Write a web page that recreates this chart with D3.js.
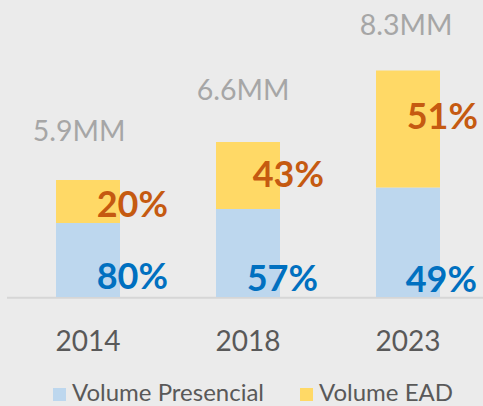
<!DOCTYPE html>
<html>
<head>
<meta charset="utf-8">
<script src="https://cdn.jsdelivr.net/npm/d3@7"></script>
<style>
  html, body { margin: 0; padding: 0; background: #ebebeb; }
  svg { display: block; font-family: Lato, "Open Sans", sans-serif; }
</style>
</head>
<body>
<script>
// ---- data (bar heights in chart units) ----
const categories = ["2014", "2018", "2023"];
const presencial = [74, 88, 109.5];
const ead = [43, 67, 117];
const totalLabels = ["5.9MM", "6.6MM", "8.3MM"];
const presencialPct = ["80%", "57%", "49%"];
const eadPct = ["20%", "43%", "51%"];
const seriesNames = ["Volume Presencial", "Volume EAD"];

// ---- layout ----
const W = 483, H = 406;
const colors = { presencial: "#bdd7ee", ead: "#ffd966" };
const presDx = [48, 38, 37];      // label right edge relative to bar right edge
const presDy = [-8, -6, -5];      // baseline relative to baseline axis
const eadDx = [48, 44, 38];
const eadDy = [-6.5, -22, -58.5]; // baseline relative to split line
const totDx = [-9, -5, -2];
const totDy = [-39, -42, -36];

const svg = d3.select("body").append("svg").attr("width", W).attr("height", H);
svg.append("rect").attr("width", W).attr("height", H).attr("fill", "#ebebeb");

const x = d3.scaleBand().domain(categories).range([8, 488]).paddingInner(0.6).paddingOuter(0.3);
const y = d3.scaleLinear().domain([0, 227]).range([297, 70]);

const rows = categories.map((c, i) => ({ c, i, p: presencial[i], e: ead[i] }));

// axis line
svg.append("line").attr("x1", 7).attr("x2", W).attr("y1", 297.8).attr("y2", 297.8)
  .attr("stroke", "#d6d6d6").attr("stroke-width", 2);

// bars
svg.selectAll("rect.pres").data(rows).join("rect").attr("class", "pres")
  .attr("x", d => x(d.c)).attr("width", x.bandwidth())
  .attr("y", d => y(d.p)).attr("height", d => y(0) - y(d.p))
  .attr("fill", colors.presencial);
svg.selectAll("rect.ead").data(rows).join("rect").attr("class", "ead")
  .attr("x", d => x(d.c)).attr("width", x.bandwidth())
  .attr("y", d => y(d.p + d.e)).attr("height", d => y(d.p) - y(d.p + d.e))
  .attr("fill", colors.ead);

// percentage labels
svg.selectAll("text.pp").data(rows).join("text").attr("class", "pp")
  .attr("x", d => x(d.c) + x.bandwidth() + presDx[d.i])
  .attr("y", d => y(0) + presDy[d.i])
  .attr("text-anchor", "end").attr("font-weight", "bold").attr("font-size", 36)
  .attr("fill", "#0070c0").text(d => presencialPct[d.i]);
svg.selectAll("text.ep").data(rows).join("text").attr("class", "ep")
  .attr("x", d => x(d.c) + x.bandwidth() + eadDx[d.i])
  .attr("y", d => y(d.p) + eadDy[d.i])
  .attr("text-anchor", "end").attr("font-weight", "bold").attr("font-size", 36)
  .attr("fill", "#c55a11").text(d => eadPct[d.i]);

// totals
svg.selectAll("text.tot").data(rows).join("text").attr("class", "tot")
  .attr("x", d => x(d.c) + x.bandwidth() / 2 + totDx[d.i])
  .attr("y", d => y(d.p + d.e) + totDy[d.i])
  .attr("text-anchor", "middle").attr("font-size", 28.5)
  .attr("fill", "#a6a6a6").text(d => totalLabels[d.i]);

// category labels
svg.selectAll("text.cat").data(categories).join("text").attr("class", "cat")
  .attr("x", d => x(d) + x.bandwidth() / 2).attr("y", 351)
  .attr("text-anchor", "middle").attr("font-size", 28)
  .attr("fill", "#595959").text(d => d);

// legend
const legX = [53, 300];
const legColors = [colors.presencial, colors.ead];
const leg = svg.selectAll("g.leg").data(seriesNames).join("g").attr("class", "leg")
  .attr("transform", (d, i) => `translate(${legX[i]},388)`);
leg.append("rect").attr("width", 13).attr("height", 13).attr("fill", (d, i) => legColors[i]);
leg.append("text").attr("x", 19).attr("y", 13).attr("font-size", 24)
  .attr("fill", "#595959").text(d => d);
</script>
</body>
</html>
